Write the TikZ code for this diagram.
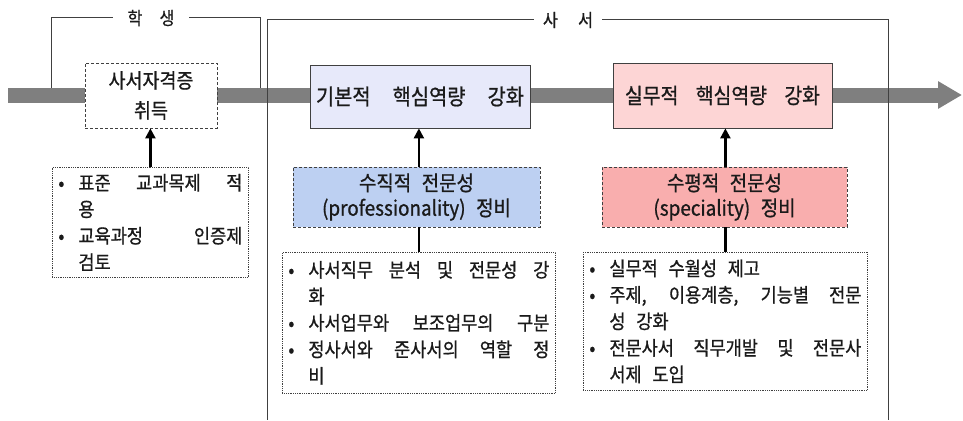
\documentclass[tikz,border=0pt]{standalone}
\usepackage{fontspec}
\setmainfont{Noto Sans CJK KR}[WordSpace=2.5,FakeBold=0.8,FakeStretch=0.9]
\usetikzlibrary{arrows.meta}
\definecolor{bargray}{HTML}{7F7F7F}
\definecolor{bord}{HTML}{404040}
\definecolor{txt}{HTML}{1A1A1A}
\definecolor{lav}{HTML}{E7E9FA}
\definecolor{pinkl}{HTML}{FDD5D5}
\definecolor{bluel}{HTML}{BDD0F2}
\definecolor{salm}{HTML}{F9AEAE}
\newcommand\bul{\makebox[20pt][l]{•}}
\newcommand\ind{\hspace*{20pt}}
\newcommand\jus[2]{{\spaceskip=0.55em plus 1fill\relax\makebox[#1][s]{#2}}}
\newcommand\lsp{\spaceskip=0.55em\relax}
\begin{document}
\begin{tikzpicture}[x=1pt,y=-1pt,
  every node/.style={text=txt},
  topbox/.style={draw=bord, line width=0.8pt, font=\fontsize{22}{30}\selectfont, align=center, inner sep=0pt},
  midbox/.style={draw=bord, densely dashed, line width=0.8pt, font=\fontsize{21}{25}\selectfont, align=center, inner sep=0pt, minimum height=60pt},
  listbox/.style={draw=bord, densely dotted, line width=0.8pt, fill=white, font=\fontsize{19.5}{26.5}\selectfont, align=left, inner xsep=6pt, inner ysep=0pt, anchor=north west},
  uparrow/.style={line width=2.3pt, -{Triangle[width=10pt,length=10pt]}},
  link/.style={line width=2.3pt},
  bracket/.style={line width=1pt, draw=bord},
  hdr/.style={font=\fontsize{18}{20}\selectfont, inner ysep=0pt}
]
\useasboundingbox (0,0) rectangle (963,420);
% main bar
\coordinate (barS) at (8,95);
\coordinate (barE) at (962,95);
\draw[line width=15pt, bargray, -{Triangle[width=26pt,length=24pt]}] (barS) -- (barE);
% brackets
\node[hdr, inner xsep=14.5pt] (hs) at (151,18) {\jus{47pt}{학 생}};
\coordinate (hsL) at (51,88);
\coordinate (hsR) at (260,88);
\draw[bracket] (hs.west) -| (hsL);
\draw[bracket] (hs.east) -| (hsR);
\node[hdr, inner xsep=9pt] (ss) at (568,20) {\jus{50pt}{사 서}};
\coordinate (ssL) at (267,420);
\coordinate (ssR) at (888,420);
\draw[bracket] (ss.west) -| (ssL);
\draw[bracket] (ss.east) -| (ssR);
% top boxes
\node[topbox, fill=white, densely dashed, minimum width=132pt, minimum height=65pt, font=\fontsize{20.5}{30}\selectfont] (qual) at (151,95.5) {사서자격증\\취득};
\node[topbox, fill=lav, minimum width=220pt, minimum height=63pt] (basic) at (420,96.5) {\jus{208pt}{기본적 핵심역량 강화}};
\node[topbox, fill=pinkl, minimum width=219pt, minimum height=65pt, font=\fontsize{21.5}{30}\selectfont] (prac) at (722.5,95.5) {\jus{195pt}{실무적 핵심역량 강화}};
% mid boxes
\node[midbox, fill=bluel, minimum width=247pt] (vert) at (416.5,197) {수직적 전문성\\(professionality) 정비};
\node[midbox, fill=salm, minimum width=245pt] (horiz) at (724.5,197) {수평적 전문성\\(speciality) 정비};
% list boxes
\node[listbox, minimum width=196pt, minimum height=110pt, text width=184pt] (l1) at (52,167)
  {\lsp\bul\jus{164pt}{표준 교과목제 적}\\ \ind 용\\ \bul\jus{164pt}{교육과정 인증제}\\ \ind 검토};
\node[listbox, minimum width=273pt, minimum height=141pt, text width=261pt] (l2) at (282,252)
  {\lsp\bul\jus{241pt}{사서직무 분석 및 전문성 강}\\ \ind 화\\ \bul\jus{241pt}{사서업무와 보조업무의 구분}\\ \bul\jus{241pt}{정사서와 준사서의 역할 정}\\ \ind 비};
\node[listbox, minimum width=284pt, minimum height=138pt, text width=272pt] (l3) at (583,252)
  {\lsp\bul 실무적 수월성 제고\\ \bul\jus{252pt}{주제, 이용계층, 기능별 전문}\\ \ind 성 강화\\ \bul\jus{252pt}{전문사서 직무개발 및 전문사}\\ \ind 서제 도입};
% connectors
\draw[uparrow] (l1.north) -- (l1.north |- qual.south);
\draw[link] (l2.north) -- (l2.north |- vert.south);
\draw[uparrow] (l2.north |- vert.north) -- (l2.north |- basic.south);
\draw[link] (l3.north) -- (l3.north |- horiz.south);
\draw[uparrow] (l3.north |- horiz.north) -- (l3.north |- prac.south);
\end{tikzpicture}
\end{document}
